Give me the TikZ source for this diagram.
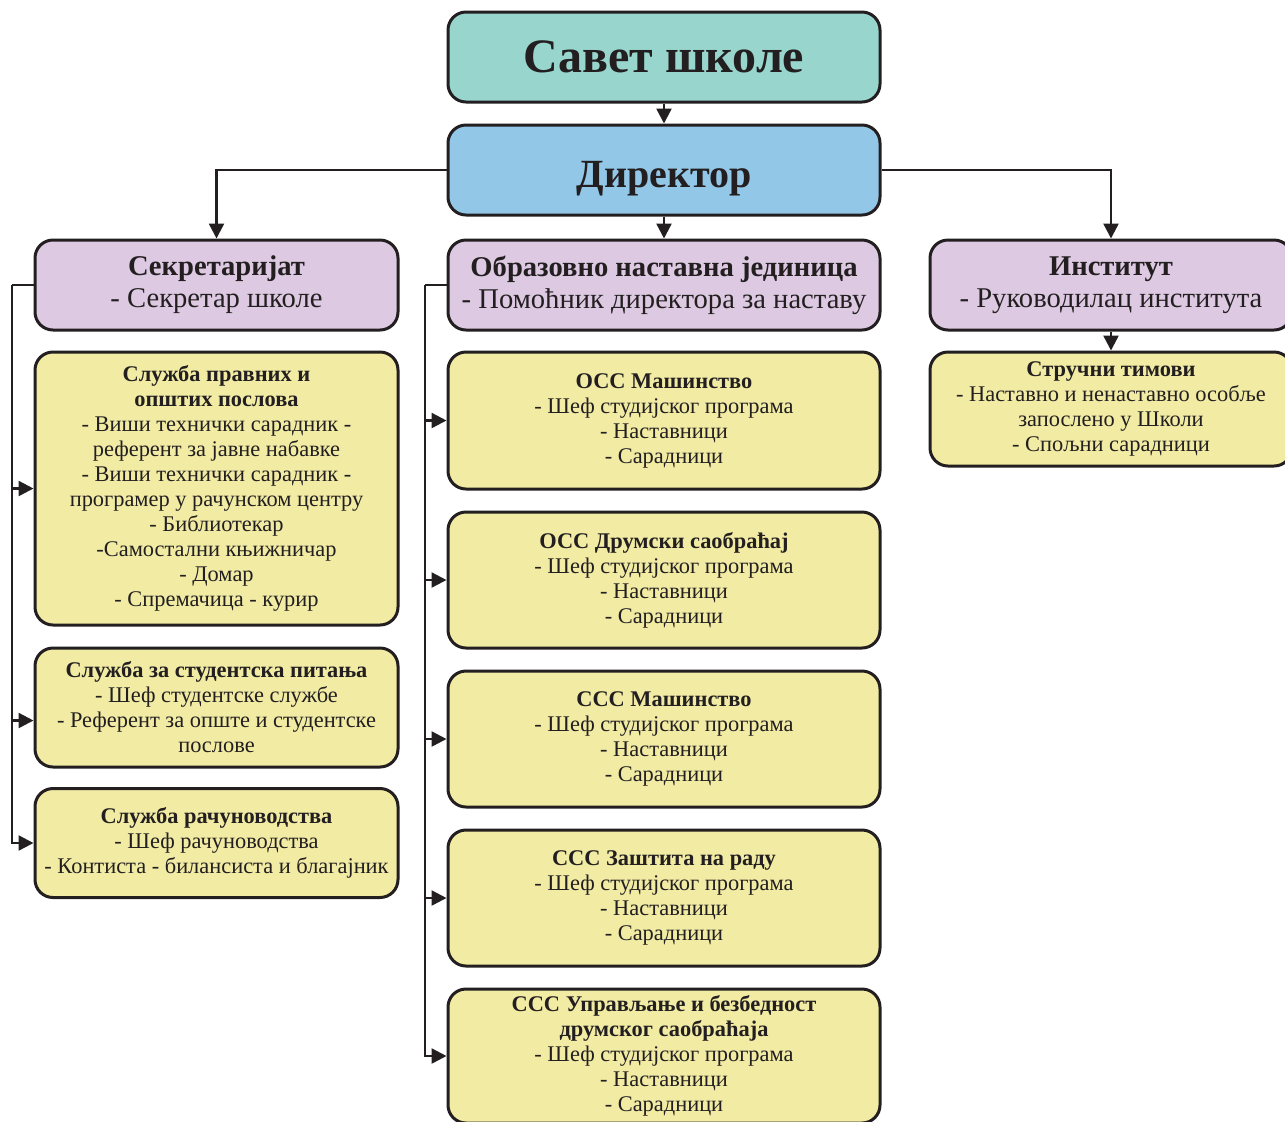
\documentclass[tikz,border=0pt]{standalone}
\usepackage{fontspec}
\setmainfont{Liberation Serif}
\usetikzlibrary{arrows.meta}

\definecolor{edge}{RGB}{35,31,32}
\definecolor{savetfill}{RGB}{151,213,205}
\definecolor{dirfill}{RGB}{147,199,231}
\definecolor{unitfill}{RGB}{221,201,226}
\definecolor{sluzbafill}{RGB}{241,235,164}

\tikzset{
  box/.style={draw=edge, text=edge, line width=1.5pt, rounded corners=9pt, align=center,
    inner sep=0pt, anchor=center},
  top/.style={box, fill=savetfill, minimum width=216pt, minimum height=45pt,
    font=\fontsize{24}{28}\selectfont\bfseries},
  dir/.style={box, fill=dirfill, minimum width=216pt, minimum height=45pt,
    text height=17pt, text depth=0pt, font=\fontsize{20}{22}\selectfont\bfseries},
  unit/.style={box, fill=unitfill, minimum height=45pt,
    font=\fontsize{14.3}{16}\selectfont},
  sluzba/.style={box, fill=sluzbafill, font=\fontsize{11.2}{12.5}\selectfont},
  conn/.style={draw=edge, line width=1.2pt, >={Triangle[length=7.5pt,width=7.5pt]}}
}

\begin{document}
\begin{tikzpicture}[x=0.5pt, y=-0.5pt]
\useasboundingbox (0,0) rectangle (1285,1121);
\clip (0,0) rectangle (1285,1121);

\node[top] (savet) at (664,57) {Савет школе};
\node[dir] (direktor) at (664,170) {Директор};

\node[unit, minimum width=181.5pt] (sekr) at (216.5,285)
  {\textbf{Секретаријат}\\- Секретар школе};
\node[unit, minimum width=216pt] (obr) at (664,285)
  {\textbf{Образовно наставна јединица}\\- Помоћник директора за наставу};
\node[unit, minimum width=181pt] (inst) at (1111,285)
  {\textbf{Институт}\\- Руководилац института};

% secretariat services
\node[sluzba, minimum width=181.5pt, minimum height=136.5pt] (pravni) at (216.5,488.5)
  {\textbf{Служба правних и}\\\textbf{општих послова}\\- Виши технички сарадник -\\
   референт за јавне набавке\\- Виши технички сарадник -\\програмер у рачунском центру\\
   - Библиотекар\\-Самостални књижничар\\- Домар\\- Спремачица - курир};
\node[sluzba, minimum width=181.5pt, minimum height=59.5pt] (student) at (216.5,707.5)
  {\textbf{Служба за студентска питања}\\- Шеф студентске службе\\
   - Референт за опште и студентске\\послове};
\node[sluzba, minimum width=181.5pt, minimum height=54.5pt] (racun) at (216.5,843)
  {\textbf{Служба рачуноводства}\\- Шеф рачуноводства\\
   - Контиста - билансиста и благајник};

% study programmes
\node[sluzba, minimum width=216pt, minimum height=68.5pt] (ossmas) at (664,420.5)
  {\textbf{ОСС Машинство}\\- Шеф студијског програма\\- Наставници\\- Сарадници};
\node[sluzba, minimum width=216pt, minimum height=68pt] (ossdrum) at (664,580)
  {\textbf{ОСС Друмски саобраћај}\\- Шеф студијског програма\\- Наставници\\- Сарадници};
\node[sluzba, minimum width=216pt, minimum height=68pt] (sssmas) at (664,739)
  {\textbf{ССС Машинство}\\- Шеф студијског програма\\- Наставници\\- Сарадници};
\node[sluzba, minimum width=216pt, minimum height=68pt] (ssszast) at (664,898)
  {\textbf{ССС Заштита на раду}\\- Шеф студијског програма\\- Наставници\\- Сарадници};
\node[sluzba, minimum width=216pt, minimum height=67pt] (sssupr) at (664,1056)
  {\textbf{ССС Управљање и безбедност}\\\textbf{друмског саобраћаја}\\
   - Шеф студијског програма\\- Наставници\\- Сарадници};

% institute
\node[sluzba, minimum width=181pt, minimum height=57pt] (timovi) at (1111,409)
  {\textbf{Стручни тимови}\\- Наставно и ненаставно особље\\запослено у Школи\\
   - Спољни сарадници};

\coordinate (sbus) at (12,285);
\coordinate (obus) at (425,285);

% top levels
\draw[conn, ->] (savet) -- (direktor);
\draw[conn, ->] (direktor) -- (obr);
\draw[conn, ->] (inst) -- (timovi);
\draw[conn, ->] (direktor.west) -| (sekr.north);
\draw[conn, ->] (direktor.east) -| (inst.north);

% secretariat bus
\draw[conn] (sekr.west) -- (sbus);
\draw[conn, ->] (sbus) |- (pravni.west);
\draw[conn, ->] (sbus) |- ([yshift=-6.5pt]student.west);
\draw[conn, ->] (sbus) |- (racun.west);

% teaching unit bus
\draw[conn] (obr.west) -- (obus);
\draw[conn, ->] (obus) |- (ossmas.west);
\draw[conn, ->] (obus) |- (ossdrum.west);
\draw[conn, ->] (obus) |- (sssmas.west);
\draw[conn, ->] (obus) |- (ssszast.west);
\draw[conn, ->] (obus) |- (sssupr.west);
\end{tikzpicture}
\end{document}
